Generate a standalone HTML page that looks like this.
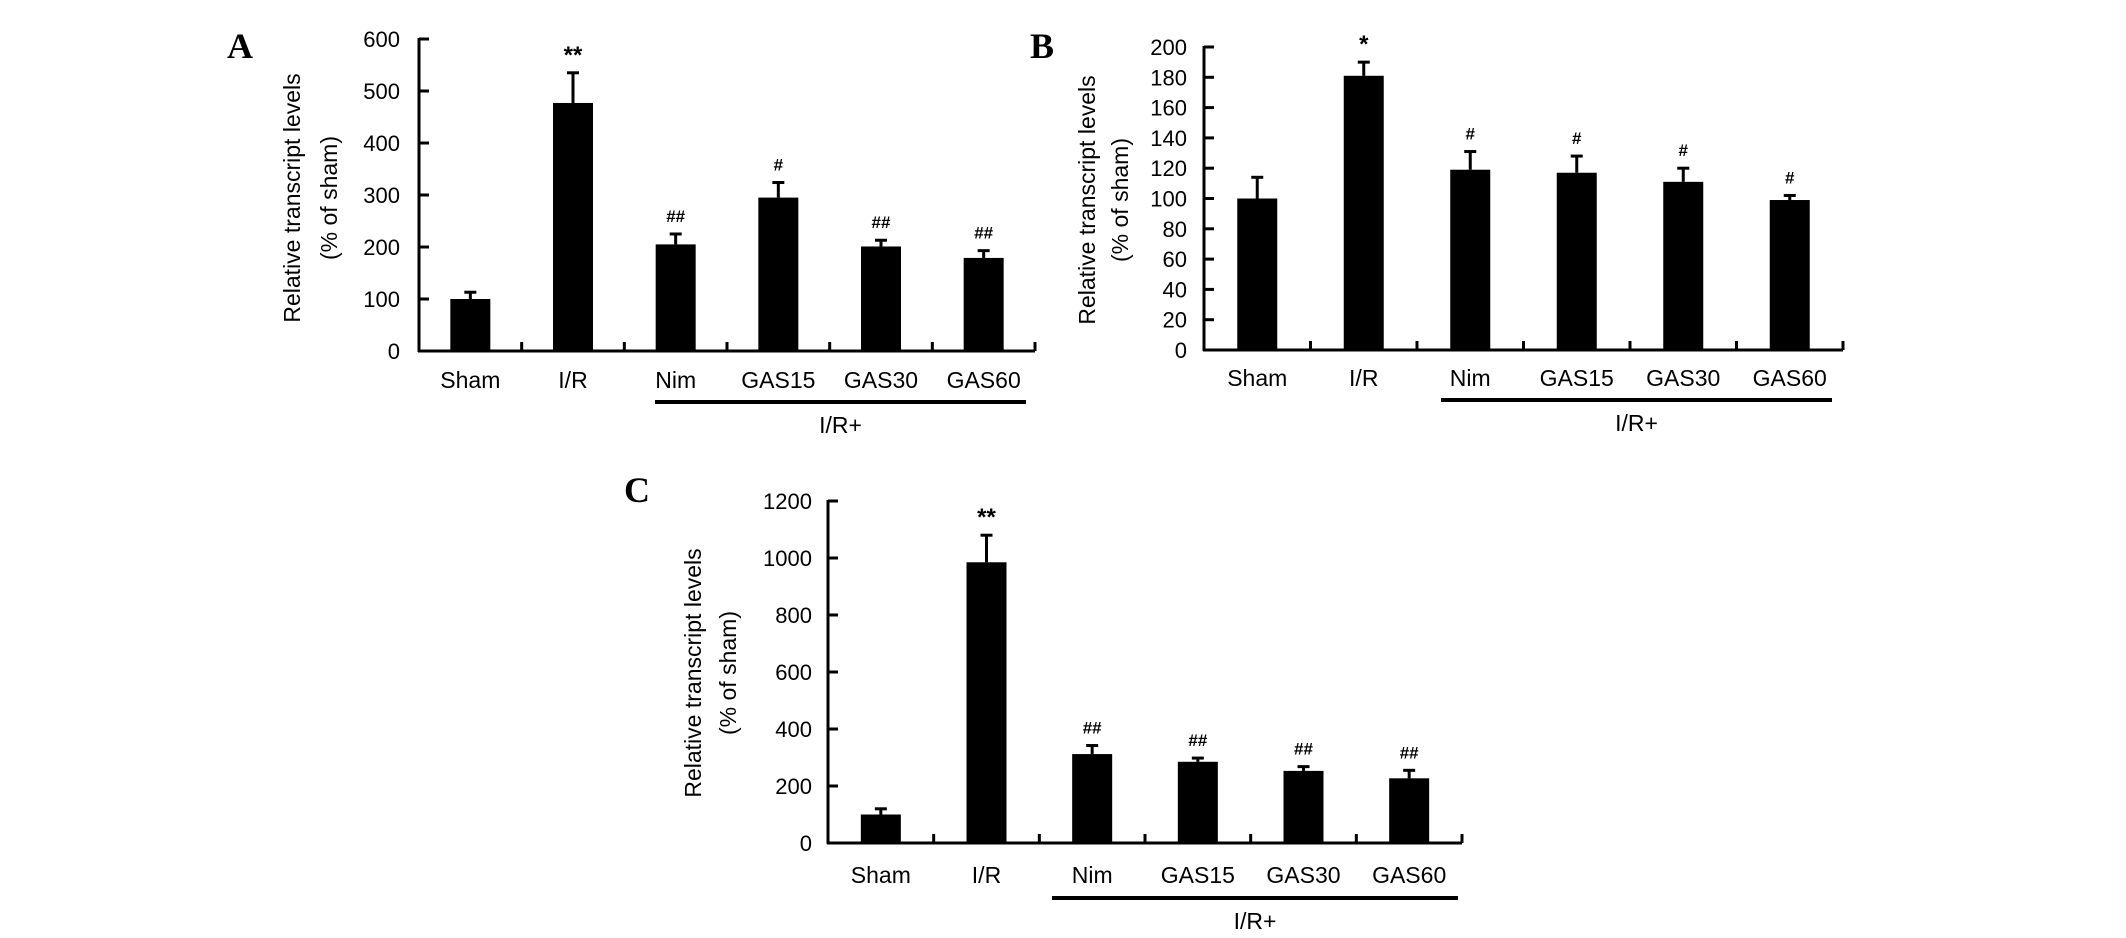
<!DOCTYPE html>
<html><head><meta charset="utf-8"><style>
html,body{margin:0;padding:0;background:#fff;}
svg{display:block;}
text{font-family:"Liberation Sans",Arial,sans-serif;fill:#000;}
.letter{font-family:"Liberation Serif",serif;font-weight:bold;font-size:36px;}
</style></head><body>
<svg id="fig" width="2126" height="938" viewBox="0 0 2126 938" xmlns="http://www.w3.org/2000/svg">
<text class="letter" x="227" y="58">A</text>
<text class="letter" x="1030" y="58">B</text>
<text class="letter" x="624" y="502">C</text>
</svg>
<script>
const categories = ["Sham","I/R","Nim","GAS15","GAS30","GAS60"];
const valuesA = [100,477,205,295,201,179];
const errorsA = [13,58,20,29,12,14];
const marksA = ["","**","##","#","##","##"];
const ticksA = [0,100,200,300,400,500,600];
const valuesB = [100,181,119,117,111,99];
const errorsB = [14,9,12,11,9,3];
const marksB = ["","*","#","#","#","#"];
const ticksB = [0,20,40,60,80,100,120,140,160,180,200];
const valuesC = [100,985,312,285,253,227];
const errorsC = [20,95,30,13,15,28];
const marksC = ["","**","##","##","##","##"];
const ticksC = [0,200,400,600,800,1000,1200];

const NS="http://www.w3.org/2000/svg";
const svg=document.getElementById('fig');
function mk(tag,attrs,parent){const e=document.createElementNS(NS,tag);for(const k in attrs)e.setAttribute(k,attrs[k]);(parent||svg).appendChild(e);return e;}

function panel(id,cfg,vals,errs,marks,ticks){
  const g=mk('g',{});
  
  
  const maxV=ticks[ticks.length-1];
  const y=v=>cfg.y0-(v/maxV)*(cfg.y0-cfg.yTop);
  const cw=(cfg.x1-cfg.x0)/categories.length;
  const xc=i=>cfg.x0+cw*(i+0.5);
  const ya=mk('line',{x1:cfg.x0,y1:cfg.yTop-1,x2:cfg.x0,y2:cfg.y0+1,stroke:'#000','stroke-width':3},g);
  
  
  const xa=mk('line',{x1:cfg.x0-1,y1:cfg.y0,x2:cfg.x1,y2:cfg.y0,stroke:'#000','stroke-width':3},g);
  
  
  ticks.forEach(t=>{
    mk('line',{x1:cfg.x0,y1:y(t),x2:cfg.x0+10,y2:y(t),stroke:'#000','stroke-width':3},g);
    const tl=mk('text',{x:cfg.lblX,y:y(t)+8,'text-anchor':'end','font-size':22},g);
    tl.textContent=t;
    
    
  });
  for(let i=1;i<=categories.length;i++){
    const xx=cfg.x0+cw*i;
    mk('line',{x1:xx,y1:cfg.y0-9,x2:xx,y2:cfg.y0,stroke:'#000','stroke-width':3},g);
  }
  categories.forEach((c,i)=>{
    const top=y(vals[i]), etop=y(vals[i]+errs[i]);
    const el=mk('line',{x1:xc(i),y1:etop,x2:xc(i),y2:top,stroke:'#000','stroke-width':3},g);
    
    
    mk('line',{x1:xc(i)-6,y1:etop,x2:xc(i)+6,y2:etop,stroke:'#000','stroke-width':3},g);
    const b=mk('rect',{x:xc(i)-20,y:top,width:40,height:cfg.y0-top,fill:'#000'},g);
    
    
    if(marks[i]){
      const star=marks[i].includes('*');
      const m=mk('text',{x:xc(i),y:etop-(star?10:12),'text-anchor':'middle','font-size':star?24:17,'font-weight':'bold','font-family':star?'"Liberation Sans",sans-serif':'"Liberation Serif",serif'},g);
      m.textContent=marks[i];
      
      
    }
    const cl=mk('text',{x:xc(i),y:cfg.catY,'text-anchor':'middle','font-size':23},g);
    cl.textContent=c;
    
    
  });
  const ul=mk('line',{x1:cfg.ulX0,y1:cfg.ulY,x2:cfg.ulX1,y2:cfg.ulY,stroke:'#000','stroke-width':4},g);
  
  
  const gl=mk('text',{x:(cfg.ulX0+cfg.ulX1)/2,y:cfg.ulY+31,'text-anchor':'middle','font-size':23},g);
  gl.textContent='I/R+';
  
  
  const t1=mk('text',{x:0,y:0,'text-anchor':'middle','font-size':23,transform:`translate(${cfg.tX1+8},${cfg.tY}) rotate(-90)`},g);
  t1.textContent='Relative transcript levels';
  
  
  const t2=mk('text',{x:0,y:0,'text-anchor':'middle','font-size':23,transform:`translate(${cfg.tX2+8},${cfg.tY}) rotate(-90)`},g);
  t2.textContent='(% of sham)';
  
  
}
panel('a',{x0:419,x1:1035,y0:351,yTop:39,lblX:400,catY:388,ulX0:655,ulX1:1026,ulY:402,tX1:292,tX2:329,tY:198},valuesA,errorsA,marksA,ticksA);
panel('b',{x0:1204,x1:1843,y0:350,yTop:47,lblX:1187,catY:386,ulX0:1441,ulX1:1832,ulY:400,tX1:1087,tX2:1120,tY:200},valuesB,errorsB,marksB,ticksB);
panel('c',{x0:828,x1:1462,y0:843,yTop:501,lblX:812,catY:883,ulX0:1052,ulX1:1458,ulY:898,tX1:693,tX2:728,tY:673},valuesC,errorsC,marksC,ticksC);
</script>
</body></html>
